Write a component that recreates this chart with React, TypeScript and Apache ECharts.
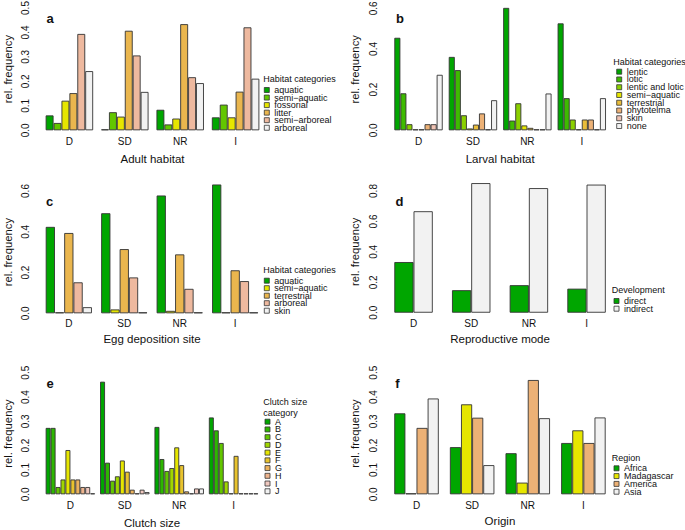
import React, { useEffect, useRef } from 'react';
import * as echarts from 'echarts';

// ---------- data ----------
const groups = ['D', 'SD', 'NR', 'I'];

const adultCats = ['aquatic', 'semi\u2212aquatic', 'fossorial', 'litter', 'semi\u2212arboreal', 'arboreal'];
const adultVals = [
  [0.061, 0, 0.084, 0.053],
  [0.030, 0.074, 0.024, 0.105],
  [0.121, 0.056, 0.048, 0.053],
  [0.152, 0.407, 0.434, 0.158],
  [0.394, 0.306, 0.217, 0.421],
  [0.242, 0.157, 0.193, 0.211],
];

const larvalCats = ['lentic', 'lotic', 'lentic and lotic', 'semi\u2212aquatic', 'terrestrial', 'phytotelma', 'skin', 'none'];
const larvalVals = [
  [0.455, 0.361, 0.602, 0.526],
  [0.182, 0.296, 0.048, 0.158],
  [0.030, 0.074, 0.133, 0.053],
  [0, 0.009, 0.024, 0],
  [0, 0.028, 0.012, 0.053],
  [0.030, 0.083, 0, 0.053],
  [0.030, 0, 0, 0],
  [0.273, 0.148, 0.181, 0.158],
];

const eggCats = ['aquatic', 'semi\u2212aquatic', 'terrestrial', 'arboreal', 'skin'];
const eggVals = [
  [0.424, 0.491, 0.578, 0.632],
  [0, 0.019, 0.012, 0],
  [0.394, 0.315, 0.289, 0.211],
  [0.152, 0.176, 0.120, 0.158],
  [0.030, 0, 0, 0],
];

const devCats = ['direct', 'indirect'];
const devVals = [
  [0.333, 0.148, 0.181, 0.158],
  [0.667, 0.852, 0.819, 0.842],
];

const clutchCats = ['A', 'B', 'C', 'D', 'E', 'F', 'G', 'H', 'I', 'J'];
const clutchVals = [
  [0.273, 0.463, 0.277, 0.316],
  [0.273, 0.130, 0.145, 0.263],
  [0.030, 0.056, 0.096, 0.211],
  [0.061, 0.074, 0.108, 0.053],
  [0.182, 0.139, 0.193, 0],
  [0.061, 0.093, 0.120, 0.158],
  [0.061, 0.019, 0.012, 0],
  [0.030, 0, 0, 0],
  [0.030, 0.019, 0.024, 0],
  [0, 0.009, 0.024, 0],
];

const regionCats = ['Africa', 'Madagascar', 'America', 'Asia'];
const regionVals = [
  [0.333, 0.194, 0.169, 0.211],
  [0, 0.370, 0.048, 0.263],
  [0.273, 0.315, 0.470, 0.211],
  [0.394, 0.120, 0.313, 0.316],
];

// ---------- palettes (R terrain.colors) ----------
const terrain2 = ['#00A600', '#F2F2F2'];
const terrain4 = ['#00A600', '#E6E600', '#ECB176', '#F2F2F2'];
const terrain5 = ['#00A600', '#E6E600', '#EAB64E', '#EEB99F', '#F2F2F2'];
const terrain6 = ['#00A600', '#63C600', '#E6E600', '#EAB64E', '#EEB99F', '#F2F2F2'];
const terrain8 = ['#00A600', '#3EBB00', '#8BD000', '#E6E600', '#E9BD3A', '#ECB176', '#EFC2B3', '#F2F2F2'];
const terrain10 = ['#00A600', '#2DB600', '#63C600', '#A0D600', '#E6E600', '#E8C32E', '#EBB25E', '#EDB48E', '#F0C9C0', '#F2F2F2'];

const FONT = '"Liberation Sans", Arial, Helvetica, sans-serif';
const INK = '#111';
const EDGE = '#333';

type Panel = {
  key: string; cats: string[]; vals: number[][]; colors: string[];
  xName: string; legTitle: string;
  max: number; interval: number;
  gl: number; gw: number; gt: number; gh: number;
  ylm: number; yng: number; xlm: number; xng: number;
  legL: number; legY: number; legS: number;
  titleX: number; titleY: number; letterX: number; letterY: number;
};

const panels: Panel[] = [
  { key: 'a', cats: adultCats, vals: adultVals, colors: terrain6, xName: 'Adult habitat', legTitle: 'Habitat categories',
    max: 0.5, interval: 0.1, gl: 41.7, gw: 221.6, gt: 8, gh: 122.3, ylm: 11.2, yng: 27.8, xlm: 6, xng: 22.7,
    legL: 264.3, legY: 90, legS: 7.55, titleX: 263.3, titleY: 79, letterX: 50, letterY: 12 },
  { key: 'b', cats: larvalCats, vals: larvalVals, colors: terrain8, xName: 'Larval habitat', legTitle: 'Habitat categories',
    max: 0.6, interval: 0.2, gl: 391.3, gw: 217.7, gt: 8.3, gh: 122, ylm: 12.5, yng: 30.7, xlm: 6, xng: 22.7,
    legL: 616.7, legY: 71.7, legS: 7.76, titleX: 613.3, titleY: 61.7, letterX: 400, letterY: 12 },
  { key: 'c', cats: eggCats, vals: eggVals, colors: terrain5, xName: 'Egg deposition site', legTitle: 'Habitat categories',
    max: 0.6, interval: 0.2, gl: 41.1, gw: 221.8, gt: 191, gh: 122.3, ylm: 10.6, yng: 27.2, xlm: 5.5, xng: 20,
    legL: 264.3, legY: 280.7, legS: 7.5, titleX: 263.3, titleY: 270, letterX: 49.5, letterY: 195 },
  { key: 'd', cats: devCats, vals: devVals, colors: terrain2, xName: 'Reproductive mode', legTitle: 'Development',
    max: 0.8, interval: 0.2, gl: 384.7, gw: 230.7, gt: 191, gh: 121.7, ylm: 5.9, yng: 24.1, xlm: 6, xng: 20.6,
    legL: 614, legY: 301, legS: 7.7, titleX: 611.7, titleY: 290, letterX: 399.5, letterY: 195 },
  { key: 'e', cats: clutchCats, vals: clutchVals, colors: terrain10, xName: 'Clutch size', legTitle: 'Clutch size\ncategory',
    max: 0.5, interval: 0.1, gl: 43.2, gw: 217.6, gt: 372.7, gh: 121.6, ylm: 12.7, yng: 29.3, xlm: 6.2, xng: 22.4,
    legL: 265, legY: 421.7, legS: 7.73, titleX: 263.3, titleY: 407.2, letterX: 50, letterY: 376.5 },
  { key: 'f', cats: regionCats, vals: regionVals, colors: terrain4, xName: 'Origin', legTitle: 'Region',
    max: 0.5, interval: 0.1, gl: 388.7, gw: 222.5, gt: 372.7, gh: 121.6, ylm: 9.9, yng: 28.1, xlm: 6.2, xng: 20.7,
    legL: 614, legY: 468.3, legS: 7.8, titleX: 611.7, titleY: 458.3, letterX: 397.5, letterY: 376.5 },
];

function buildOption() {
  const grid: any[] = [];
  const xAxis: any[] = [];
  const yAxis: any[] = [];
  const series: any[] = [];
  const graphic: any[] = [];

  panels.forEach((p, i) => {
    grid.push({ left: p.gl, top: p.gt, width: p.gw, height: p.gh, containLabel: false, outerBoundsMode: 'none' });
    xAxis.push({
      gridIndex: i, type: 'category', data: groups,
      axisLine: { show: false }, axisTick: { show: false }, splitLine: { show: false },
      axisLabel: { margin: p.xlm, fontSize: 10, color: INK, fontFamily: FONT },
      name: p.xName, nameLocation: 'middle', nameGap: p.xng, nameMoveOverlap: false,
      nameTextStyle: { fontSize: 11.5, color: INK, fontFamily: FONT },
    });
    yAxis.push({
      gridIndex: i, type: 'value', min: 0, max: p.max, interval: p.interval,
      axisLine: { show: false }, axisTick: { show: false }, splitLine: { show: false },
      axisLabel: { rotate: 90, margin: p.ylm, fontSize: 10, color: INK, fontFamily: FONT,
        formatter: (v: number) => v.toFixed(1) },
      name: 'rel. frequency', nameLocation: 'middle', nameRotate: 90, nameGap: p.yng, nameMoveOverlap: false,
      nameTextStyle: { fontSize: 11.3, color: INK, fontFamily: FONT },
    });
    const n = p.cats.length;
    p.cats.forEach((c, j) => {
      series.push({
        type: 'bar', name: p.key + ': ' + c, xAxisIndex: i, yAxisIndex: i, data: p.vals[j],
        barGap: '0%', barCategoryGap: (100 / (n + 1)) + '%', barMinHeight: 1,
        clip: false, silent: true,
        itemStyle: { color: p.colors[j], borderColor: EDGE, borderWidth: 0.9 },
      });
      // legend key box
      const cy = p.legY + j * p.legS;
      graphic.push({
        type: 'rect', silent: true,
        shape: { x: p.legL, y: cy - 2.5, width: 5, height: 5 },
        style: { fill: p.colors[j], stroke: EDGE, lineWidth: 0.8 },
      });
    });
    // legend labels as one block with tight line spacing (as in the R legend)
    graphic.push({
      type: 'text', x: p.legL + 10, y: p.legY - p.legS / 2, silent: true,
      style: { text: p.cats.join('\n'), fontSize: 9, lineHeight: p.legS, fill: INK, fontFamily: FONT,
        textAlign: 'left', textVerticalAlign: 'top' },
    });
    graphic.push({
      type: 'text', x: p.titleX, y: p.titleY, silent: true,
      style: { text: p.legTitle, fontSize: 9, lineHeight: 11, fill: INK, fontFamily: FONT,
        textAlign: 'left', textVerticalAlign: 'middle' },
    });
    graphic.push({
      type: 'text', x: p.letterX, y: p.letterY, silent: true,
      style: { text: p.key, fontSize: 13, fontWeight: 'bold', fill: INK, fontFamily: FONT,
        textAlign: 'center', textVerticalAlign: 'alphabetic' },
    });
  });

  return {
    animation: false,
    backgroundColor: '#fff',
    textStyle: { fontFamily: FONT },
    grid, xAxis, yAxis, series, graphic,
  };
}

export default function App() {
  const ref = useRef<HTMLDivElement>(null);
  useEffect(() => {
    const chart = echarts.init(ref.current as HTMLDivElement, null, { renderer: 'svg' });
    chart.setOption(buildOption() as any);
    return () => chart.dispose();
  }, []);
  return (
    <div
      ref={ref}
      style={{ position: 'fixed', left: 0, top: 0, width: 685, height: 530, background: '#fff' }}
    />
  );
}
